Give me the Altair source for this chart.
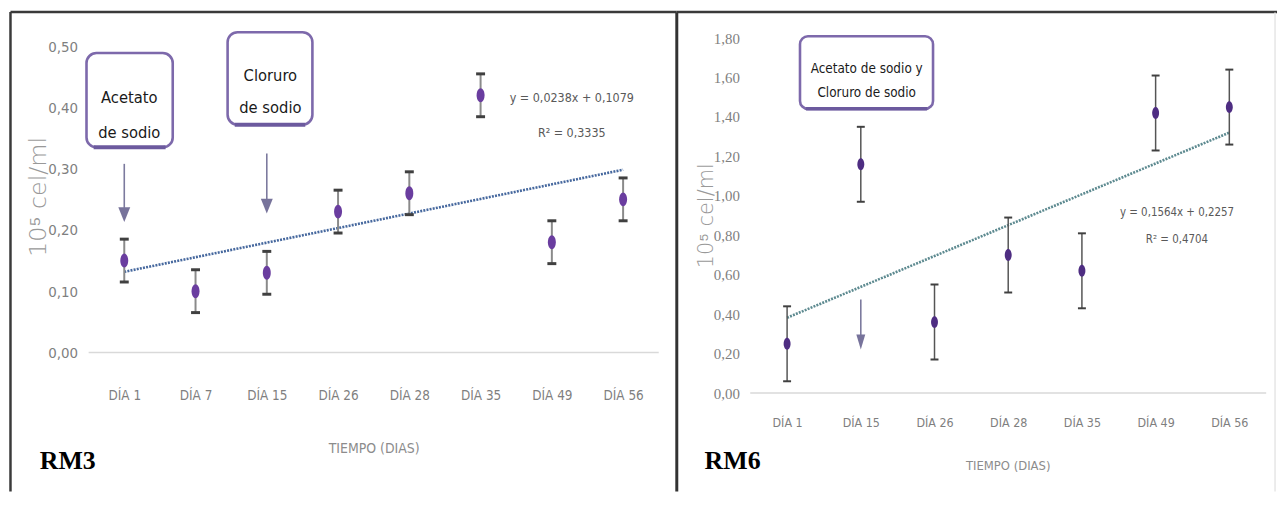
import altair as alt
import pandas as pd

# ---------------- data ----------------
rm3_days = ["DÍA 1", "DÍA 7", "DÍA 15", "DÍA 26", "DÍA 28", "DÍA 35", "DÍA 49", "DÍA 56"]
rm3_mean = [0.15, 0.10, 0.13, 0.23, 0.26, 0.42, 0.18, 0.25]
rm3_err = [0.035, 0.035, 0.035, 0.035, 0.035, 0.035, 0.035, 0.035]
rm3_yticks = [0.0, 0.1, 0.2, 0.3, 0.4, 0.5]
rm3_eq = ["y = 0,0238x + 0,1079", "R² = 0,3335"]

rm6_days = ["DÍA 1", "DÍA 15", "DÍA 26", "DÍA 28", "DÍA 35", "DÍA 49", "DÍA 56"]
rm6_mean = [0.25, 1.16, 0.36, 0.70, 0.62, 1.42, 1.45]
rm6_err = [0.19, 0.19, 0.19, 0.19, 0.19, 0.19, 0.19]
rm6_yticks = [0.0, 0.2, 0.4, 0.6, 0.8, 1.0, 1.2, 1.4, 1.6, 1.8]
rm6_eq = ["y = 0,1564x + 0,2257", "R² = 0,4704"]

# annotation placement (in data units of each panel)
rm3_box_x0 = [0.47, 2.45]
rm3_box_x1 = [1.68, 3.64]
rm3_box_y0 = [0.335, 0.372]
rm3_box_y1 = [0.489, 0.523]
rm3_note_text = ["Acetato", "de sodio", "Cloruro", "de sodio"]
rm3_note_x = [1.07, 1.07, 3.05, 3.05]
rm3_note_y = [0.416, 0.359, 0.451, 0.399]
rm3_arrow_x = [1, 3]
rm3_arrow_top = [0.308, 0.325]
rm3_arrow_end = [0.236, 0.250]
rm3_arrow_head = [0.225, 0.239]
rm3_eq_x = [7.28, 7.28]
rm3_eq_y = [0.416, 0.359]

rm6_box_x0 = [1.175]
rm6_box_x1 = [2.98]
rm6_box_y0 = [1.441]
rm6_box_y1 = [1.809]
rm6_note_text = ["Acetato de sodio y", "Cloruro de sodio"]
rm6_note_x = [2.08, 2.08]
rm6_note_y = [1.642, 1.521]
rm6_arrow_x = [2]
rm6_arrow_top = [0.474]
rm6_arrow_end = [0.285]
rm6_arrow_head = [0.259]
rm6_eq_x = [6.29, 6.29]
rm6_eq_y = [0.912, 0.776]

NARROW = "'DejaVu Sans Condensed', 'Liberation Sans Narrow', 'Liberation Sans', sans-serif"
SERIF = "'Liberation Serif', 'DejaVu Serif', serif"
WIDE = "'DejaVu Sans', 'Liberation Sans', sans-serif"


def ellipse_path(a):
    k = 0.5523
    return (f"M0,-1C{a*k:.4f},-1 {a:.4f},-{k} {a:.4f},0"
            f"C{a:.4f},{k} {a*k:.4f},1 0,1"
            f"C-{a*k:.4f},1 -{a:.4f},{k} -{a:.4f},0"
            f"C-{a:.4f},-{k} -{a*k:.4f},-1 0,-1Z")


def panel(days, mean, err, yticks, eq, bx0, bx1, by0, by1, ntext, nx, ny,
          ax, atop, aend, ahead, eqx, eqy, tag, c):
    n = len(days)
    idx = list(range(1, n + 1))
    df = pd.DataFrame({
        "idx": idx, "day": days, "mean": mean,
        "lo": [m - e for m, e in zip(mean, err)],
        "hi": [m + e for m, e in zip(mean, err)],
    })
    xs = alt.Scale(domain=c["xdom"], nice=False, zero=False)
    ys = alt.Scale(domain=c["ydom"], nice=False, zero=False)
    label_arr = "[" + ",".join("'%s'" % d for d in days) + "]"
    xaxis = alt.Axis(
        values=idx, labelExpr=f"{label_arr}[round(datum.value) - 1]",
        ticks=False, domain=False, grid=False, labelPadding=0,
        labelBaseline="middle", labelOverlap=False, labelFlush=False, offset=c["xoff"],
        labelFont=NARROW, labelFontSize=c["xlab_size"], labelColor="#7f7f7f",
        title="TIEMPO (DIAS)", titleFont=NARROW, titleFontSize=c["xtitle_size"],
        titleFontWeight="normal", titleColor="#8c8c8c",
        titleX=c["xtitle_x"], titleY=c["xtitle_y"],
        titleAlign="center", titleBaseline="middle",
    )
    yaxis = alt.Axis(
        values=yticks, labelExpr="replace(format(datum.value, '.2f'), '.', ',')",
        ticks=False, domain=False, grid=False, labelPadding=0,
        labelOverlap=False, labelFlush=False, offset=c["yoff"],
        labelFont=c["ylab_font"], labelFontSize=c["ylab_size"], labelColor="#7f7f7f",
        title="10⁵ cel/ml", titleFont=WIDE, titleFontSize=c["ytitle_size"],
        titleFontWeight=300, titleColor="#999999",
        titleAngle=270, titleAlign="center", titleBaseline="middle",
        titleX=c["ytitle_x"], titleY=c["ytitle_y"],
    )

    def X(f):
        return alt.X(f, scale=xs, axis=xaxis)

    def Y(f):
        return alt.Y(f, scale=ys, axis=yaxis)

    zero_df = pd.DataFrame({"x0": [0.5], "x1": [n + 0.5], "y0": [0.0]})
    zero = alt.Chart(zero_df).mark_rule(color="#d9d9d9", strokeWidth=1.5).encode(
        x=X("x0:Q"), x2="x1:Q", y=Y("y0:Q"))

    trend = alt.Chart(df).transform_regression(
        "idx", "mean", method="linear", extent=[1, n]
    ).mark_line(color=c["trend_color"], strokeWidth=2.6, strokeDash=[2, 1.2]).encode(
        x=X("idx:Q"), y=Y("mean:Q"))

    bars = alt.Chart(df).mark_rule(color=c["bar_color"], strokeWidth=c["bar_w"]).encode(
        x=X("idx:Q"), y=Y("lo:Q"), y2="hi:Q")
    cap_lo = alt.Chart(df).mark_tick(orient="horizontal", size=c["cap_w"],
                                     thickness=c["cap_t"], color=c["cap_color"], opacity=1).encode(
        x=X("idx:Q"), y=Y("lo:Q"))
    cap_hi = alt.Chart(df).mark_tick(orient="horizontal", size=c["cap_w"],
                                     thickness=c["cap_t"], color=c["cap_color"], opacity=1).encode(
        x=X("idx:Q"), y=Y("hi:Q"))
    pts = alt.Chart(df).mark_point(shape=ellipse_path(c["pt_a"]), filled=True, opacity=1,
                                   size=c["pt_size"], color=c["pt_color"]).encode(
        x=X("idx:Q"), y=Y("mean:Q"))

    box_df = pd.DataFrame({"x0": bx0, "x1": bx1, "y0": by0, "y1": by1})
    boxes = alt.Chart(box_df).mark_rect(fill="white", stroke="#7d69ab", strokeWidth=2.6,
                                        cornerRadius=c["radius"]).encode(
        x=X("x0:Q"), x2="x1:Q", y=Y("y0:Q"), y2="y1:Q")
    box_bot = alt.Chart(box_df).transform_calculate(
        xa=f"datum.x0 + {c['bot_inset']}", xb=f"datum.x1 - {c['bot_inset']}"
    ).mark_rule(color="#6c5a9e", strokeWidth=c["bot_w"]).encode(
        x=X("xa:Q"), x2="xb:Q", y=Y("y0:Q"))

    note_df = pd.DataFrame({"t": ntext, "x": nx, "y": ny})
    notes = alt.Chart(note_df).mark_text(font=NARROW, fontSize=c["note_size"], color="#1a1a1a",
                                         align="center", baseline="middle").encode(
        x=X("x:Q"), y=Y("y:Q"), text="t:N")

    arr_df = pd.DataFrame({"x": ax, "top": atop, "end": aend, "head": ahead})
    arr_line = alt.Chart(arr_df).mark_rule(color="#7c7a9e", strokeWidth=1.6).encode(
        x=X("x:Q"), y=Y("top:Q"), y2="end:Q")
    arr_head = alt.Chart(arr_df).mark_point(shape=c["head_path"], filled=True, opacity=1,
                                            size=225, color="#77739b").encode(
        x=X("x:Q"), y=Y("head:Q"))

    eq_df = pd.DataFrame({"t": eq, "x": eqx, "y": eqy})
    eqs = alt.Chart(eq_df).mark_text(font=NARROW, fontSize=c["eq_size"], color="#595959",
                                     align="center", baseline="middle").encode(
        x=X("x:Q"), y=Y("y:Q"), text="t:N")

    one = pd.DataFrame({"t": [tag]})
    tag_mark = alt.Chart(one).mark_text(font=SERIF, fontWeight="bold", fontSize=26,
                                        color="black", align="left",
                                        baseline="alphabetic").encode(
        x=alt.value(c["tag_x"]), y=alt.value(c["tag_y"]), text="t:N")

    frames = []
    for (fx, fx2, fy, fy2, col, sw) in c["frames"]:
        enc = {"x": alt.value(fx), "y": alt.value(fy)}
        if fx2 is not None:
            enc["x2"] = alt.value(fx2)
        if fy2 is not None:
            enc["y2"] = alt.value(fy2)
        frames.append(alt.Chart(one).mark_rule(color=col, strokeWidth=sw).encode(**enc))

    return alt.layer(zero, trend, bars, cap_lo, cap_hi, pts, boxes, box_bot, notes,
                     arr_line, arr_head, eqs, tag_mark, *frames).properties(
        width=c["w"], height=c["h"])


H = 488

left_cfg = dict(
    w=673, h=H, xdom=[-0.6316, 8.7533], ydom=[-0.2321, 0.5601],
    xoff=-100, yoff=-70, xlab_size=13.5, xtitle_size=14, xtitle_x=368, xtitle_y=54,
    ylab_font=NARROW, ylab_size=15, ytitle_size=24, ytitle_x=-39, ytitle_y=188,
    trend_color="#46689e", bar_color="#8a8a8a", bar_w=2.0, cap_w=9, cap_t=3,
    cap_color="#404040", pt_a=0.57, pt_size=196, pt_color="#6a3d9f",
    radius=10, bot_inset=0.1, bot_w=4, note_size=16.5,
    head_path="M-0.8,-1L0.8,-1L0,1Z", eq_size=12.5, tag_x=32, tag_y=462,
    frames=[(2.5, 673, 2.5, None, "#3a3a3a", 2.5),
            (2.5, None, 2.5, H - 3, "#3a3a3a", 2.5)],
)

right_cfg = dict(
    w=604, h=H, xdom=[-0.4966, 7.647], ydom=[-0.5139, 1.9446],
    xoff=-72, yoff=-63, xlab_size=12.5, xtitle_size=13, xtitle_x=333, xtitle_y=43,
    ylab_font=SERIF, ylab_size=15, ytitle_size=21, ytitle_x=-33, ytitle_y=207,
    trend_color="#5d8a90", bar_color="#555555", bar_w=1.5, cap_w=8, cap_t=2,
    cap_color="#404040", pt_a=0.58, pt_size=144, pt_color="#4e2d82",
    radius=8, bot_inset=0.08, bot_w=3.5, note_size=13.5,
    head_path="M-0.6,-1L0.6,-1L0,1Z", eq_size=11.5, tag_x=28, tag_y=462,
    frames=[(0, 604, 2.5, None, "#3a3a3a", 2.5),
            (0, None, 3, H - 3, "#333333", 3),
            (602, None, 3, H - 3, "#e6e6e6", 1.5)],
)

left = panel(rm3_days, rm3_mean, rm3_err, rm3_yticks, rm3_eq,
             rm3_box_x0, rm3_box_x1, rm3_box_y0, rm3_box_y1,
             rm3_note_text, rm3_note_x, rm3_note_y,
             rm3_arrow_x, rm3_arrow_top, rm3_arrow_end, rm3_arrow_head,
             rm3_eq_x, rm3_eq_y, "RM3", left_cfg)
right = panel(rm6_days, rm6_mean, rm6_err, rm6_yticks, rm6_eq,
              rm6_box_x0, rm6_box_x1, rm6_box_y0, rm6_box_y1,
              rm6_note_text, rm6_note_x, rm6_note_y,
              rm6_arrow_x, rm6_arrow_top, rm6_arrow_end, rm6_arrow_head,
              rm6_eq_x, rm6_eq_y, "RM6", right_cfg)

chart = alt.hconcat(left, right, spacing=0, bounds="flush").properties(
    padding=0, background="white"
).configure_view(strokeWidth=0)

chart.save("out.html", embed_options={"renderer": "svg", "actions": False})
